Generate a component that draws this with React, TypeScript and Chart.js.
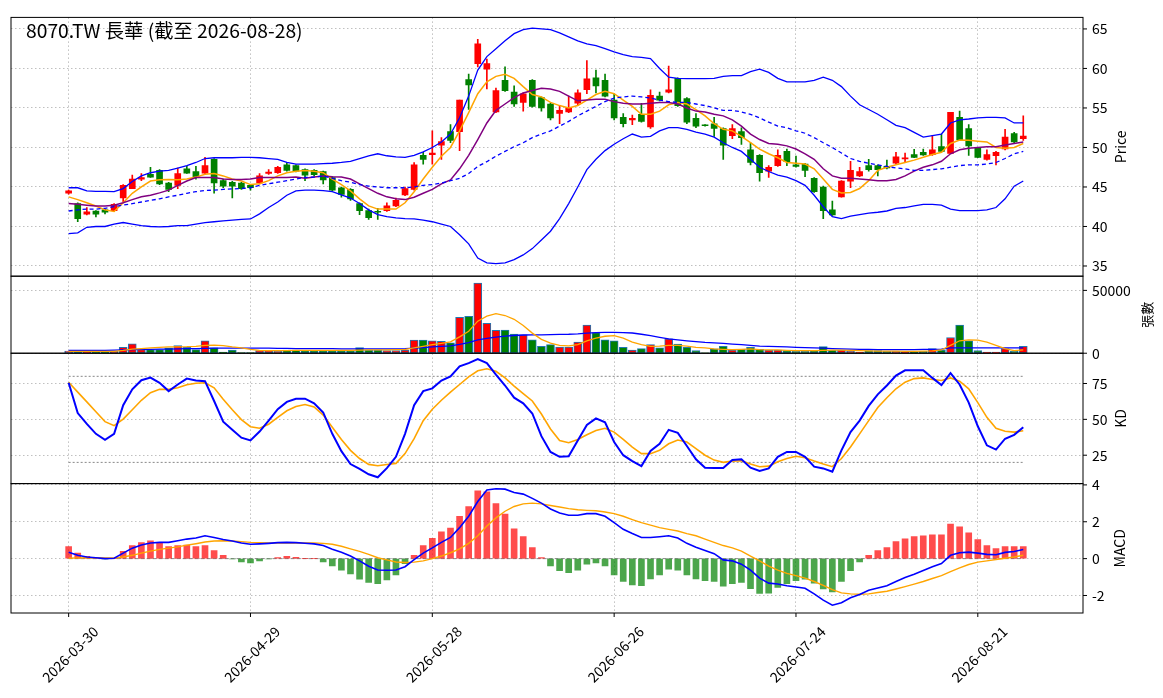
import React, { useEffect, useRef } from "react";
import { Chart, registerables } from "chart.js";

Chart.register(...registerables);

// trading days (Taiwan), 2026
const DAYS = [
  "03-30", "03-31", "04-01", "04-02", "04-07", "04-08", "04-09", "04-10", "04-13", "04-14",
  "04-15", "04-16", "04-17", "04-20", "04-21", "04-22", "04-23", "04-24", "04-27", "04-28",
  "04-29", "04-30", "05-04", "05-05", "05-06", "05-07", "05-08", "05-11", "05-12", "05-13",
  "05-14", "05-15", "05-18", "05-19", "05-20", "05-21", "05-22", "05-25", "05-26", "05-27",
  "05-28", "05-29", "06-01", "06-02", "06-03", "06-04", "06-05", "06-08", "06-09", "06-10",
  "06-11", "06-12", "06-15", "06-16", "06-17", "06-18", "06-22", "06-23", "06-24", "06-25",
  "06-26", "06-29", "06-30", "07-01", "07-02", "07-03", "07-06", "07-07", "07-08", "07-09",
  "07-10", "07-13", "07-14", "07-15", "07-16", "07-17", "07-20", "07-21", "07-22", "07-23",
  "07-24", "07-27", "07-28", "07-29", "07-30", "07-31", "08-03", "08-04", "08-05", "08-06",
  "08-07", "08-10", "08-11", "08-12", "08-13", "08-14", "08-17", "08-18", "08-19", "08-20",
  "08-21", "08-24", "08-25", "08-26", "08-27", "08-28",
];
const DATES = DAYS.map((d) => "2026-" + d);
const X_TICKS = [0, 20, 40, 60, 80, 100];

const OPEN = [
  44.2, 42.9, 41.55, 41.95, 42.1, 42.0, 43.6, 44.8, 46.0, 46.6,
  47.1, 45.5, 45.2, 47.3, 46.95, 46.75, 48.5, 45.8, 45.6, 45.5,
  45.2, 45.5, 46.7, 46.8, 47.8, 47.7, 47.2, 47.1, 46.95, 46.2,
  44.9, 44.7, 42.9, 42.0, 41.9, 42.0, 42.6, 44.0, 44.7, 49.0,
  49.1, 50.3, 52.0, 52.0, 58.6, 60.6, 59.9, 54.5, 58.5, 57.0,
  55.7, 58.5, 56.3, 55.5, 54.3, 54.5, 55.6, 57.3, 58.8, 58.5,
  56.0, 53.8, 53.5, 54.2, 52.6, 56.5, 57.0, 58.75, 56.2, 53.7,
  52.85, 53.0, 52.4, 51.5, 52.0, 49.7, 49.0, 47.0, 47.7, 49.5,
  47.8, 47.9, 46.1, 45.0, 42.1, 43.75, 45.75, 46.4, 47.7, 47.7,
  47.6, 48.0, 48.55, 49.1, 49.4, 49.1, 50.1, 49.25, 53.8, 52.4,
  49.9, 48.5, 48.95, 49.8, 51.75, 51.1,
];
const HIGH = [
  44.6, 43.0, 42.4, 42.0, 42.2, 42.9, 45.3, 46.5, 46.7, 47.5,
  47.2, 45.6, 47.4, 47.6, 47.6, 48.75, 48.6, 46.0, 45.7, 45.6,
  45.3, 46.7, 47.2, 47.6, 48.1, 47.8, 47.3, 47.2, 47.0, 46.3,
  45.0, 44.8, 43.0, 42.2, 42.3, 43.0, 43.6, 45.0, 48.1, 49.4,
  52.1, 51.25, 52.9, 56.0, 59.3, 63.7, 61.2, 57.5, 60.2, 57.8,
  56.9, 58.6, 56.4, 55.6, 55.3, 56.5, 57.3, 61.0, 59.8, 59.3,
  56.75, 54.3, 54.1, 55.6, 57.3, 57.0, 60.3, 58.8, 56.3, 54.3,
  52.9, 53.8, 52.5, 52.9, 52.5, 50.6, 49.1, 47.7, 49.7, 49.8,
  48.9, 48.0, 46.2, 45.1, 43.2, 45.8, 48.25, 47.5, 48.5, 47.8,
  48.4, 49.4, 49.3, 49.75, 49.8, 51.5, 51.7, 54.45, 54.6, 52.9,
  50.0, 49.7, 49.5, 52.3, 51.9, 54.0,
];
const LOW = [
  44.1, 40.6, 41.45, 41.2, 41.6, 41.9, 43.1, 44.8, 45.8, 46.2,
  45.3, 44.4, 44.8, 46.7, 46.0, 46.6, 44.2, 44.9, 43.6, 44.7,
  44.6, 45.4, 46.6, 46.7, 47.0, 46.9, 45.8, 46.4, 45.4, 44.5,
  43.7, 43.3, 41.5, 40.9, 40.9, 41.9, 42.5, 43.9, 44.6, 47.9,
  47.9, 48.5, 50.6, 49.6, 54.8, 60.2, 57.4, 54.4, 57.1, 55.2,
  54.6, 55.1, 54.6, 53.5, 53.0, 54.4, 55.3, 56.8, 56.9, 56.4,
  53.5, 52.6, 52.9, 53.2, 52.4, 55.9, 56.9, 55.2, 53.0, 52.5,
  52.7, 51.4, 48.5, 51.1, 50.4, 47.8, 45.75, 46.2, 47.6, 47.7,
  47.5, 46.3, 44.3, 41.0, 41.4, 43.7, 44.9, 46.3, 47.0, 46.4,
  47.3, 47.9, 48.2, 48.7, 49.0, 49.0, 49.4, 49.2, 51.0, 49.0,
  48.7, 48.4, 47.8, 49.7, 50.6, 50.9,
];
const CLOSE = [
  44.5, 41.0, 41.85, 41.55, 41.8, 42.8, 45.2, 46.0, 46.2, 46.25,
  45.4, 44.7, 46.7, 46.75, 46.25, 47.7, 45.5, 45.1, 45.1, 44.8,
  44.9, 46.4, 46.9, 47.5, 47.1, 47.0, 46.5, 46.55, 45.9, 44.6,
  44.05, 43.5, 42.0, 41.1, 41.8, 42.6, 43.3, 44.8, 47.8, 48.5,
  49.3, 50.75, 50.9, 56.0, 57.9, 63.1, 60.6, 57.2, 57.2, 55.5,
  56.8, 55.2, 55.0, 53.75, 54.7, 55.0, 56.9, 58.7, 57.8, 56.5,
  53.75, 53.0, 53.7, 53.3, 56.6, 56.0, 57.3, 55.3, 53.2, 52.7,
  52.75, 52.4, 50.3, 52.4, 51.25, 48.1, 46.8, 47.5, 49.0, 48.2,
  47.6, 47.1, 44.4, 42.0, 41.45, 45.75, 47.1, 46.95, 47.2, 47.2,
  47.4, 48.8, 48.65, 48.75, 49.05, 49.7, 49.5, 54.45, 51.0, 50.2,
  48.75, 49.1, 49.4, 51.3, 50.7, 51.45,
];

const MA5 = [
  43.75, 43.4, 43.0, 42.6, 42.1, 41.9, 43.0, 44.2, 45.0, 45.75,
  45.9, 45.95, 45.9, 46.0, 46.25, 46.6, 46.7, 46.4, 46.0, 45.75,
  45.3, 45.4, 45.8, 46.4, 46.8, 47.0, 47.1, 47.0, 46.8, 46.0,
  45.3, 44.5, 43.5, 42.6, 42.2, 42.2, 42.2, 43.0, 44.4, 46.0,
  47.5, 48.9, 50.0, 52.1, 54.4, 56.8, 58.3, 59.0, 59.25, 58.75,
  57.7, 56.7, 56.4, 55.7, 55.3, 55.0, 55.3, 56.0, 56.7, 57.1,
  56.8, 56.0, 55.2, 54.2, 54.2, 54.6, 55.4, 55.7, 55.5, 54.8,
  54.0, 53.0, 52.3, 52.1, 51.4, 50.6, 49.8, 49.2, 48.7, 48.1,
  48.0, 47.9, 47.3, 46.0, 44.7, 44.25, 44.3, 44.8, 45.8, 47.1,
  47.5, 47.8, 48.1, 48.4, 48.75, 49.1, 49.4, 50.5, 50.95, 50.9,
  50.8, 50.7, 50.0, 49.9, 50.0, 50.5,
];
const MA10 = [
  42.9, 42.8, 42.7, 42.6, 42.6, 42.7, 43.0, 43.4, 43.75, 43.95,
  44.25, 44.6, 45.2, 45.75, 46.2, 46.2, 46.2, 46.0, 45.95, 45.95,
  46.0, 46.2, 46.2, 46.2, 46.2, 46.25, 46.1, 46.25, 46.4, 46.3,
  46.25, 46.0, 45.4, 44.8, 44.2, 43.75, 43.5, 43.4, 43.7, 44.2,
  44.7, 45.4, 45.9, 47.3, 49.0, 51.0, 53.1, 54.7, 55.5, 56.3,
  56.9, 57.2, 57.5, 57.4, 57.1, 56.5, 55.9, 56.0, 56.1, 56.1,
  55.8, 55.6, 55.5, 55.5, 55.6, 55.7, 55.7, 55.5, 55.0, 54.6,
  54.5, 54.2, 54.0, 53.5, 52.7, 51.7, 51.0, 50.5, 50.4, 50.2,
  49.8, 49.2, 48.5, 47.3, 46.4, 46.1, 46.1, 46.0, 45.9, 45.8,
  45.8, 45.95, 46.4, 47.0, 47.5, 47.8, 48.25, 49.2, 49.7, 49.9,
  50.0, 50.1, 50.1, 50.3, 50.5, 50.7,
];
const BB_MID = [
  41.96, 42.1, 42.2, 42.2, 42.3, 42.5, 42.7, 42.9, 43.1, 43.3,
  43.5, 43.75, 43.95, 44.2, 44.4, 44.55, 44.6, 44.7, 44.75, 44.8,
  44.9, 45.2, 45.4, 45.6, 45.8, 46.0, 46.2, 46.25, 46.4, 46.1,
  45.8, 45.6, 45.3, 45.1, 45.0, 44.9, 44.9, 44.9, 45.0, 45.2,
  45.3, 45.5, 45.8, 46.1, 46.7, 47.6, 48.2, 48.9, 49.5, 50.1,
  50.6, 51.25, 51.7, 52.1, 52.7, 53.3, 54.0, 54.6, 55.2, 55.8,
  56.25, 56.4, 56.5, 56.4, 56.25, 56.0, 55.8, 55.7, 55.7, 55.5,
  55.3, 55.0, 54.7, 54.7, 54.5, 54.2, 53.75, 53.2, 52.7, 52.5,
  52.1, 51.8, 51.25, 50.6, 50.0, 49.3, 48.6, 48.25, 48.0, 47.8,
  47.6, 47.4, 47.3, 47.1, 47.1, 47.2, 47.3, 47.5, 47.7, 47.8,
  47.8, 47.9, 48.1, 48.6, 49.2, 49.5,
];
const BB_UP = [
  44.9, 44.9, 44.5, 44.45, 44.45, 44.4, 44.8, 45.7, 46.4, 46.8,
  47.0, 47.1, 47.4, 47.7, 48.1, 48.6, 48.7, 48.7, 48.7, 48.75,
  48.75, 48.7, 48.6, 48.5, 48.1, 47.9, 47.9, 47.9, 47.95, 48.0,
  48.1, 48.25, 48.6, 48.95, 49.2, 48.95, 48.8, 48.75, 49.0, 49.45,
  50.0, 50.7, 51.7, 53.75, 56.5, 59.8, 61.5, 62.5, 63.5, 64.4,
  64.9, 65.1, 65.0, 64.9, 64.5, 64.0, 63.5, 63.1, 62.9, 62.5,
  62.1, 61.75, 61.5, 61.4, 61.25, 60.0, 58.9, 58.75, 58.7, 58.7,
  58.7, 58.75, 59.0, 59.1, 59.1, 59.6, 59.9, 59.5, 58.75, 58.3,
  58.3, 58.3, 58.5, 58.9, 58.5, 57.7, 56.5, 55.4, 54.8, 54.2,
  53.5, 52.8, 52.5, 51.9, 51.3, 51.5, 51.7, 53.1, 53.5, 53.6,
  53.75, 53.8, 53.8, 53.75, 53.1, 53.1,
];
const BB_LOW = [
  39.1, 39.2, 39.9, 40.0, 40.0, 40.3, 40.5, 40.3, 40.1, 40.0,
  39.96, 40.0, 40.1, 40.1, 40.3, 40.5, 40.6, 40.7, 40.8, 40.9,
  40.95, 41.6, 42.4, 43.1, 43.95, 44.5, 44.6, 44.6, 44.55, 44.4,
  44.0, 43.6, 42.9, 42.1, 41.5, 41.25, 41.1, 41.0, 40.95, 40.8,
  40.6, 40.3, 40.0, 38.96, 37.8, 36.0, 35.4, 35.3, 35.4, 35.8,
  36.4, 37.2, 38.3, 39.4, 41.0, 42.9, 45.0, 47.2, 48.5, 49.6,
  50.4, 51.1, 51.7, 51.3, 51.4, 52.1, 52.5, 52.5, 52.3, 51.95,
  51.7, 51.3, 50.6, 50.0, 49.5, 48.5, 47.5, 46.96, 46.5, 46.25,
  45.8, 45.2, 43.95, 42.5, 41.25, 41.0, 41.3, 41.5, 41.7, 41.8,
  41.96, 42.3, 42.4, 42.6, 42.8, 42.8, 42.7, 42.2, 42.0, 42.0,
  42.0, 42.1, 42.4, 43.5, 45.1, 45.75,
];

const VOLUME = [
  1800, 2000, 1000, 1000, 1000, 1500, 4700, 7500, 2900, 2900,
  2900, 4200, 6000, 4700, 2900, 9900, 4200, 1000, 2600, 500,
  500, 2100, 2100, 1500, 2600, 2600, 2100, 2100, 2100, 2100,
  2100, 2100, 4400, 2600, 2600, 2100, 2100, 2600, 10400, 10400,
  9900, 9400, 8300, 28600, 29400, 55800, 23700, 18200, 18500, 15300,
  14600, 10700, 5500, 6800, 4900, 4900, 8800, 22400, 16400, 10700,
  9900, 4700, 2600, 3600, 6800, 4200, 11400, 7300, 4700, 2100,
  300, 3400, 5500, 2600, 3100, 4700, 3100, 2600, 2600, 2100,
  1500, 1500, 2100, 5200, 2600, 2600, 1500, 1000, 2100, 2100,
  1500, 1500, 1000, 1000, 1500, 3600, 2600, 12500, 22400, 9900,
  2100, 1000, 1000, 3600, 1500, 5500,
];
const VOL_MA5 = [
  1500, 1500, 1400, 1400, 1400, 1500, 2200, 3200, 3700, 4200,
  4700, 5000, 5100, 5200, 5500, 6300, 6500, 6000, 5000, 4200,
  3000, 2300, 2100, 2000, 2100, 2200, 2200, 2200, 2200, 2200,
  2200, 2300, 2500, 2600, 2700, 2700, 2800, 3000, 4300, 5500,
  6800, 7800, 9000, 13000, 17500, 25500, 29500, 31500, 30000, 27000,
  22000, 16000, 11000, 8000, 6300, 5800, 6800, 9900, 12000, 13500,
  14000, 12000, 8800, 6800, 5500, 5700, 6200, 6200, 5700, 4700,
  4200, 3400, 3100, 2900, 3100, 3400, 2900, 2600, 2600, 2300,
  2100, 2000, 2000, 2300, 2400, 2400, 2300, 2000, 1800, 1700,
  1700, 1600, 1500, 1500, 1600, 1800, 2600, 6200, 9900, 10700,
  10400, 8800, 6200, 3600, 2100, 2600,
];
const VOL_MA20 = [
  2300, 2300, 2300, 2300, 2300, 2400, 2600, 2900, 3000, 3100,
  3200, 3300, 3500, 3600, 3700, 3900, 4000, 4000, 4100, 4100,
  4100, 4100, 4000, 3900, 3800, 3700, 3700, 3600, 3600, 3600,
  3500, 3500, 3500, 3500, 3500, 3500, 3500, 3600, 4100, 4500,
  5000, 5400, 5800, 7000, 8400, 10600, 11800, 12800, 13600, 14100,
  14500, 14600, 14600, 14800, 15000, 15100, 15400, 16000, 16400, 16600,
  16600, 16400, 16100, 15100, 14000, 12700, 11400, 10600, 9900, 9200,
  8600, 8200, 7800, 7300, 6800, 6200, 5700, 5400, 5200, 5000,
  4700, 4400, 4200, 4000, 3700, 3400, 3200, 3100, 3000, 2900,
  2900, 2900, 2900, 2900, 3000, 3100, 3300, 4200, 4200, 4200,
  4200, 4200, 4200, 4200, 4200, 4200,
];

const K = [
  75.5, 54.4, 46.8, 39.9, 35.8, 39.9, 59.9, 70.9, 77.3, 79.1,
  75.5, 69.7, 74.3, 78.4, 77.1, 76.6, 62.8, 48.4, 42.7, 37.2,
  35.3, 41.5, 49.1, 57.1, 62.2, 64.4, 64.4, 61.2, 54.8, 39.9,
  27.8, 18.8, 15.4, 11.7, 9.6, 16.0, 23.9, 39.9, 59.9, 69.7,
  71.6, 77.1, 80.0, 86.9, 89.2, 92.0, 89.2, 81.2, 73.6, 65.1,
  61.2, 54.1, 38.3, 27.3, 23.9, 24.3, 35.3, 46.1, 50.7, 47.9,
  34.2, 25.0, 20.9, 17.4, 28.0, 33.0, 42.7, 40.6, 31.4, 22.2,
  16.3, 16.1, 16.0, 21.6, 22.2, 16.3, 14.0, 15.8, 23.9, 27.3,
  27.3, 23.9, 17.0, 15.8, 13.5, 28.4, 41.1, 49.1, 59.4, 67.4,
  73.6, 80.5, 84.2, 84.2, 84.2, 78.9, 73.9, 82.3, 74.3, 61.7,
  45.2, 31.9, 28.9, 36.5, 39.2, 44.5,
];
const D = [
  75.9, 69.0, 62.2, 55.3, 48.4, 45.6, 50.2, 56.7, 63.3, 68.6,
  70.9, 70.9, 72.0, 74.1, 75.2, 75.5, 72.0, 64.0, 56.7, 49.8,
  44.9, 43.8, 46.6, 51.4, 56.0, 58.9, 60.3, 58.7, 53.0, 44.5,
  36.0, 28.4, 22.7, 18.6, 17.7, 18.5, 19.3, 26.1, 36.5, 49.1,
  57.1, 63.3, 69.0, 74.3, 79.6, 83.9, 85.3, 83.5, 78.9, 73.2,
  67.9, 62.8, 53.7, 43.3, 35.3, 33.7, 36.0, 39.2, 42.2, 43.8,
  41.1, 36.0, 30.7, 26.1, 26.1, 28.4, 33.0, 35.6, 34.2, 29.6,
  25.0, 21.6, 20.0, 20.9, 21.1, 18.8, 17.0, 17.4, 20.4, 22.7,
  24.3, 23.2, 20.9, 18.8, 17.0, 22.7, 30.7, 39.9, 49.1, 58.3,
  65.1, 71.3, 75.9, 78.4, 78.9, 77.8, 77.1, 78.9, 76.6, 71.3,
  61.7, 51.4, 43.8, 41.7, 41.1, 42.0,
];

const HIST = [
  0.65, 0.30, 0.12, 0.05, -0.02, 0.0, 0.39, 0.71, 0.87, 0.97,
  0.88, 0.65, 0.71, 0.74, 0.65, 0.71, 0.44, 0.18, -0.02, -0.18,
  -0.23, -0.12, -0.02, 0.05, 0.12, 0.07, 0.0, 0.0, -0.18, -0.39,
  -0.62, -0.83, -1.12, -1.29, -1.36, -1.15, -0.88, -0.27, 0.18, 0.71,
  1.10, 1.45, 1.66, 2.30, 2.83, 3.68, 3.63, 2.99, 2.41, 1.61,
  1.19, 0.60, 0.05, -0.39, -0.65, -0.76, -0.62, -0.30, -0.23, -0.39,
  -0.88, -1.24, -1.42, -1.47, -1.10, -0.88, -0.57, -0.62, -0.88, -1.10,
  -1.20, -1.24, -1.50, -1.36, -1.29, -1.63, -1.89, -1.88, -1.56, -1.36,
  -1.20, -1.12, -1.33, -1.65, -1.81, -1.24, -0.65, -0.18, 0.18, 0.44,
  0.60, 0.92, 1.08, 1.19, 1.24, 1.29, 1.29, 1.88, 1.72, 1.40,
  1.03, 0.71, 0.55, 0.65, 0.65, 0.65,
];
const DIF = [
  0.35, 0.18, 0.09, 0.05, 0.0, 0.02, 0.30, 0.57, 0.74, 0.85,
  0.88, 0.88, 0.97, 1.06, 1.12, 1.24, 1.15, 1.04, 0.96, 0.85,
  0.78, 0.80, 0.83, 0.87, 0.88, 0.87, 0.83, 0.80, 0.71, 0.51,
  0.34, 0.14, -0.12, -0.41, -0.62, -0.63, -0.62, -0.44, -0.05, 0.30,
  0.58, 0.88, 1.15, 1.68, 2.30, 3.10, 3.72, 3.79, 3.77, 3.59,
  3.50, 3.27, 3.01, 2.69, 2.48, 2.35, 2.35, 2.44, 2.44, 2.30,
  1.95, 1.59, 1.36, 1.15, 1.15, 1.19, 1.24, 1.12, 0.83, 0.62,
  0.44, 0.27, -0.07, -0.12, -0.30, -0.62, -1.06, -1.33, -1.38, -1.47,
  -1.54, -1.61, -1.91, -2.25, -2.53, -2.39, -2.12, -1.95, -1.72, -1.59,
  -1.47, -1.24, -1.03, -0.85, -0.65, -0.44, -0.27, 0.18, 0.32, 0.35,
  0.30, 0.23, 0.21, 0.34, 0.39, 0.50,
];
const SIGNAL = [
  0.02, 0.04, 0.05, 0.05, 0.04, 0.04, 0.09, 0.18, 0.30, 0.41,
  0.50, 0.57, 0.64, 0.73, 0.81, 0.90, 0.96, 0.97, 0.96, 0.92,
  0.88, 0.87, 0.85, 0.85, 0.85, 0.85, 0.85, 0.85, 0.83, 0.78,
  0.67, 0.53, 0.39, 0.23, 0.05, -0.07, -0.18, -0.21, -0.19, -0.12,
  0.0, 0.14, 0.32, 0.53, 0.83, 1.24, 1.77, 2.21, 2.57, 2.83,
  2.97, 3.01, 2.97, 2.88, 2.80, 2.71, 2.65, 2.62, 2.60, 2.53,
  2.44, 2.30, 2.12, 1.95, 1.82, 1.68, 1.59, 1.50, 1.36, 1.24,
  1.06, 0.88, 0.71, 0.58, 0.41, 0.14, -0.12, -0.41, -0.62, -0.80,
  -0.92, -1.06, -1.24, -1.45, -1.68, -1.86, -1.91, -1.93, -1.91, -1.84,
  -1.77, -1.65, -1.52, -1.38, -1.24, -1.08, -0.92, -0.71, -0.50, -0.32,
  -0.19, -0.12, -0.05, 0.02, 0.09, 0.18,
];

const TITLE = "8070.TW 長華 (截至 2026-08-28)";
const FONT = '"Noto Sans CJK TC", "Noto Sans", sans-serif';
const GRID = "#b0b0b0";
const UP = "#ff0000";
const DOWN = "#008000";
const LAST = DATES.length - 1;

const pts = (arr: number[]) => arr.map((y, x) => ({ x, y }));
const candleColors = CLOSE.map((c, i) => (c >= OPEN[i] ? UP : DOWN));

const line = (yAxisID: string, data: number[], color: string, width: number, dash: number[] = []) => ({
  type: "line" as const,
  yAxisID,
  data: pts(data),
  borderColor: color,
  borderWidth: width,
  borderDash: dash,
  pointRadius: 0,
  tension: 0,
  fill: false,
  order: 1,
});

const refLine = (yAxisID: string, y: number, dash: number[]) => ({
  type: "line" as const,
  yAxisID,
  data: [{ x: 0, y }, { x: LAST, y }],
  borderColor: "#888888",
  borderWidth: 1,
  borderDash: dash,
  pointRadius: 0,
  order: 4,
});

const yAxis = (weight: number, min: number, max: number, ticks: number[]) => ({
  type: "linear" as const,
  position: "right" as const,
  stack: "panels",
  stackWeight: weight,
  min,
  max,
  afterBuildTicks: (s: any) => {
    s.ticks = ticks.map((value) => ({ value }));
  },
  afterFit: (s: any) => {
    s.width = 80;
  },
  ticks: { padding: 9, color: "#000", font: { size: 14 }, callback: (v: any) => String(v) },
  grid: { color: GRID, lineWidth: 0.8, drawTicks: false },
  border: { display: false, dash: [1.5, 2.5] },
});

const Y_LABELS = [
  { id: "yP", text: "Price", x: 1121, size: 14 },
  { id: "yV", text: "張數", x: 1147, size: 13 },
  { id: "yK", text: "KD", x: 1121, size: 14 },
  { id: "yM", text: "MACD", x: 1120, size: 14 },
];

const panelFrame = {
  id: "panelFrame",
  afterDraw(chart: any) {
    const { ctx, chartArea, scales } = chart;
    ctx.save();
    ctx.strokeStyle = "#000";
    ctx.lineWidth = 1;
    const seg = (x1: number, y1: number, x2: number, y2: number) => {
      ctx.beginPath();
      ctx.moveTo(x1, y1);
      ctx.lineTo(x2, y2);
      ctx.stroke();
    };
    for (const lab of Y_LABELS) {
      const s = scales[lab.id];
      ctx.strokeRect(chartArea.left, s.top, chartArea.right - chartArea.left, s.bottom - s.top);
      for (const t of s.ticks) {
        const y = s.getPixelForValue(t.value);
        seg(chartArea.right, y, chartArea.right + 4, y);
      }
      ctx.save();
      ctx.translate(lab.x, (s.top + s.bottom) / 2);
      ctx.rotate(-Math.PI / 2);
      ctx.fillStyle = "#000";
      ctx.font = `${lab.size}px ${FONT}`;
      ctx.textAlign = "center";
      ctx.textBaseline = "middle";
      ctx.fillText(lab.text, 0, 0);
      ctx.restore();
    }
    const xs = scales.x;
    for (const t of xs.ticks) {
      const px = xs.getPixelForValue(t.value);
      seg(px, chartArea.bottom, px, chartArea.bottom + 4);
    }
    ctx.fillStyle = "#000";
    ctx.font = `19.3px ${FONT}`;
    ctx.textAlign = "left";
    ctx.textBaseline = "middle";
    ctx.fillText(TITLE, 26, 31);
    ctx.restore();
  },
};

export default function App() {
  const canvasRef = useRef<HTMLCanvasElement>(null);

  useEffect(() => {
    const ctx = canvasRef.current?.getContext("2d");
    if (!ctx) return;
    Chart.defaults.font.family = FONT;

    const chart = new Chart(ctx, {
      type: "bar",
      data: {
        datasets: [
          // candles
          {
            type: "bar",
            yAxisID: "yP",
            data: LOW.map((l, i) => ({ x: i, y: [l, HIGH[i]] })),
            backgroundColor: candleColors,
            barThickness: 1,
            grouped: false,
            order: 3,
          },
          {
            type: "bar",
            yAxisID: "yP",
            data: OPEN.map((o, i) => ({ x: i, y: [Math.min(o, CLOSE[i]), Math.max(o, CLOSE[i])] })),
            backgroundColor: candleColors,
            barThickness: 6,
            minBarLength: 1,
            grouped: false,
            order: 2,
          },
          line("yP", BB_UP, "#0000ff", 1.3),
          line("yP", BB_LOW, "#0000ff", 1.3),
          line("yP", BB_MID, "#0000ff", 1.3, [4, 3]),
          line("yP", MA10, "#800080", 1.5),
          line("yP", MA5, "#ffa500", 1.5),
          // volume
          {
            type: "bar",
            yAxisID: "yV",
            data: pts(VOLUME),
            backgroundColor: candleColors,
            borderColor: "#1f77b4",
            borderWidth: 1,
            borderSkipped: false,
            barThickness: 8,
            grouped: false,
            order: 2,
          },
          line("yV", VOL_MA5, "#ffa500", 1.3),
          line("yV", VOL_MA20, "#0000ff", 1.3),
          // KD
          refLine("yK", 80, [2, 2]),
          refLine("yK", 20, [2, 2]),
          line("yK", K, "#0000ff", 2),
          line("yK", D, "#ffa500", 1.6),
          // MACD
          refLine("yM", 0, [4, 2]),
          {
            type: "bar",
            yAxisID: "yM",
            data: pts(HIST),
            backgroundColor: HIST.map((v) => (v >= 0 ? "rgba(255,0,0,0.7)" : "rgba(0,128,0,0.7)")),
            barThickness: 6,
            grouped: false,
            order: 2,
          },
          line("yM", DIF, "#0000ff", 1.6),
          line("yM", SIGNAL, "#ffa500", 1.4),
        ] as any,
      },
      options: {
        animation: false,
        responsive: false,
        events: [],
        layout: { padding: { top: 10, left: 11, right: 0, bottom: 0 }, autoPadding: false },
        plugins: { legend: { display: false }, tooltip: { enabled: false } },
        scales: {
          x: {
            type: "linear",
            offset: false,
            min: -6.34,
            max: 111.57,
            afterBuildTicks: (s: any) => {
              s.ticks = X_TICKS.map((value) => ({ value }));
            },
            afterFit: (s: any) => {
              s.height = 85;
            },
            ticks: {
              autoSkip: false,
              minRotation: 45,
              maxRotation: 45,
              padding: 10,
              labelOffset: 27,
              color: "#000",
              font: { size: 14 },
              callback: (v: any) => DATES[v] ?? "",
            },
            grid: { color: GRID, lineWidth: 0.8, drawTicks: false, offset: false },
            border: { display: false, dash: [1.5, 2.5] },
          },
          yP: yAxis(262, 33.71, 66.46, [35, 40, 45, 50, 55, 60, 65]),
          yV: yAxis(78, 0, 61300, [0, 50000]),
          yK: yAxis(132, 5.2, 96.1, [25, 50, 75]),
          yM: yAxis(131, -2.95, 4.07, [-2, 0, 2, 4]),
        } as any,
      },
      plugins: [panelFrame],
    });

    return () => chart.destroy();
  }, []);

  return (
    <div style={{ position: "absolute", left: 0, top: 0, width: 1163, height: 698, background: "#fff" }}>
      <canvas ref={canvasRef} width={1163} height={698} />
    </div>
  );
}
